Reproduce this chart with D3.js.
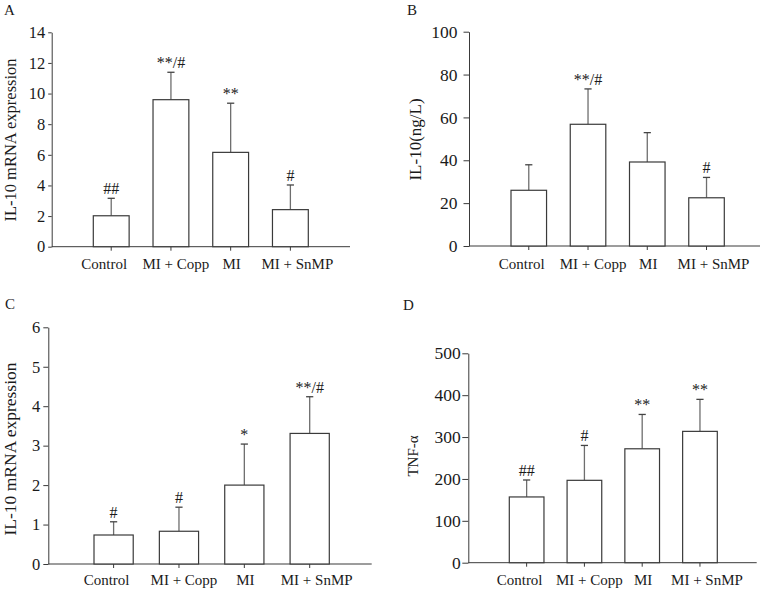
<!DOCTYPE html>
<html>
<head>
<meta charset="utf-8">
<script src="https://cdn.jsdelivr.net/npm/d3@7/dist/d3.min.js"></script>
<style>
  html, body { margin: 0; padding: 0; background: #fff; }
  svg { display: block; }
  text { font-family: "Liberation Serif", "Times New Roman", "DejaVu Serif", serif; fill: #1a1a1a; }
</style>
</head>
<body>
<svg id="chart" width="771" height="591"></svg>
<script>
// ---------- data ----------
const categories = ["Control", "MI + Copp", "MI", "MI + SnMP"];

const meanA = [2.02, 9.6, 6.16, 2.42];
const sdA   = [1.14, 1.79, 3.21, 1.61];
const sigA  = ["##", "**/#", "**", "#"];
const ticksA = [0, 2, 4, 6, 8, 10, 12, 14];

const meanB = [26.0, 56.8, 39.2, 22.5];
const sdB   = [11.9, 16.5, 13.7, 9.5];
const sigB  = ["", "**/#", "", "#"];
const ticksB = [0, 20, 40, 60, 80, 100];

const meanC = [0.735, 0.83, 2.0, 3.31];
const sdC   = [0.335, 0.61, 1.04, 0.93];
const sigC  = ["#", "#", "*", "**/#"];
const ticksC = [0, 1, 2, 3, 4, 5, 6];

const meanD = [157, 196.7, 272, 313.6];
const sdD   = [40.5, 83.3, 82, 76.4];
const sigD  = ["##", "#", "**", "**"];
const ticksD = [0, 100, 200, 300, 400, 500];

// ---------- layout ----------
const panels = [
  { letter: "A", letterPos: [4, 15], ylabel: "IL-10 mRNA expression", ylabelPos: [15.5, 140], ylabelSize: 16.5,
    mean: meanA, sd: sdA, sig: sigA, ticks: ticksA,
    axisX: 51.7, xEnd: 350, yRange: [246.7, 32.3], barRange: [93.3, 308.3],
    tickSize: 3.5, tickPad: 3, tickFont: 16.5, xLabelY: 269 },
  { letter: "B", letterPos: [407, 15], ylabel: "IL-10(ng/L)", ylabelPos: [421, 139.5], ylabelSize: 17,
    mean: meanB, sd: sdB, sig: sigB, ticks: ticksB,
    axisX: 469, xEnd: 760, yRange: [246, 31.7], barRange: [511, 724.3],
    tickSize: 5.5, tickPad: 6, tickFont: 17.5, xLabelY: 269 },
  { letter: "C", letterPos: [5, 309], ylabel: "IL-10 mRNA expression", ylabelPos: [15.5, 449], ylabelSize: 17.5,
    mean: meanC, sd: sdC, sig: sigC, ticks: ticksC,
    axisX: 48.3, xEnd: 371.7, yRange: [564, 327.3], barRange: [94, 329.3],
    tickSize: 5, tickPad: 3, tickFont: 16.5, xLabelY: 585 },
  { letter: "D", letterPos: [403, 310], ylabel: "TNF-\u03B1", ylabelPos: [418, 456], ylabelSize: 15,
    mean: meanD, sd: sdD, sig: sigD, ticks: ticksD,
    axisX: 468.3, xEnd: 756.7, yRange: [562.7, 353.3], barRange: [509.3, 717.3],
    tickSize: 6, tickPad: 1.5, tickFont: 17.5, xLabelY: 585 }
];
const labelShift = [-7, 5, 1, 7];   // horizontal nudge of category labels
const axisColor = "#3a3a3a";
const barStroke = "#3a3a3a";
const errColor = "#6e6e6e";

const svg = d3.select("#chart");

panels.forEach(p => {
  const g = svg.append("g");
  const yMax = d3.max(p.ticks);
  const y = d3.scaleLinear().domain([0, yMax]).range(p.yRange);
  const x = d3.scaleBand().domain(categories).range(p.barRange)
              .paddingInner(0.4).paddingOuter(0);

  // y axis
  const yAxis = d3.axisLeft(y).tickValues(p.ticks).tickSize(p.tickSize)
                  .tickSizeOuter(0).tickPadding(p.tickPad).tickFormat(d3.format("d"));
  const ya = g.append("g").attr("transform", `translate(${p.axisX},0)`).call(yAxis);
  ya.attr("font-family", null).attr("font-size", null);
  ya.select(".domain").attr("stroke", axisColor).attr("stroke-width", 1);
  ya.selectAll(".tick line").attr("stroke", axisColor);
  ya.selectAll(".tick text").attr("font-size", p.tickFont).attr("fill", "#1a1a1a");

  // x axis baseline
  g.append("line")
    .attr("x1", p.axisX).attr("x2", p.xEnd)
    .attr("y1", y(0)).attr("y2", y(0))
    .attr("stroke", axisColor).attr("stroke-width", 1);

  const xAxis = d3.axisBottom(x).tickSize(4).tickSizeOuter(0).tickFormat("");
  const xa = g.append("g").attr("transform", `translate(0,${y(0)})`).call(xAxis);
  xa.select(".domain").remove();
  xa.selectAll(".tick line").attr("stroke", axisColor);

  // category labels
  g.selectAll("text.cat").data(categories).enter().append("text")
    .attr("class", "cat")
    .attr("x", (d, i) => x(d) + x.bandwidth() / 2 + labelShift[i])
    .attr("y", p.xLabelY)
    .attr("text-anchor", "middle")
    .attr("font-size", 15)
    .text(d => d);

  const data = categories.map((c, i) => ({ c, m: p.mean[i], s: p.sd[i], sig: p.sig[i] }));

  // error bars (upper only)
  const eb = g.selectAll("g.err").data(data).enter().append("g").attr("class", "err");
  eb.append("line")
    .attr("x1", d => x(d.c) + x.bandwidth() / 2).attr("x2", d => x(d.c) + x.bandwidth() / 2)
    .attr("y1", d => y(d.m)).attr("y2", d => y(d.m + d.s))
    .attr("stroke", errColor).attr("stroke-width", 1.3);
  eb.append("line")
    .attr("x1", d => x(d.c) + x.bandwidth() / 2 - 3.6).attr("x2", d => x(d.c) + x.bandwidth() / 2 + 3.6)
    .attr("y1", d => y(d.m + d.s)).attr("y2", d => y(d.m + d.s))
    .attr("stroke", "#444").attr("stroke-width", 1.3);

  // bars
  g.selectAll("rect.bar").data(data).enter().append("rect")
    .attr("class", "bar")
    .attr("x", d => x(d.c)).attr("width", x.bandwidth())
    .attr("y", d => y(d.m)).attr("height", d => y(0) - y(d.m))
    .attr("fill", "#fff").attr("stroke", barStroke).attr("stroke-width", 1.2);

  // significance labels
  g.selectAll("text.sig").data(data.filter(d => d.sig)).enter().append("text")
    .attr("class", "sig")
    .attr("x", d => x(d.c) + x.bandwidth() / 2)
    .attr("y", d => y(d.m + d.s) - 4)
    .attr("text-anchor", "middle")
    .attr("font-size", 16)
    .text(d => d.sig);

  // y label
  g.append("text")
    .attr("transform", `translate(${p.ylabelPos[0]},${p.ylabelPos[1]}) rotate(-90)`)
    .attr("text-anchor", "middle")
    .attr("font-size", p.ylabelSize)
    .text(p.ylabel);

  // panel letter
  g.append("text")
    .attr("x", p.letterPos[0]).attr("y", p.letterPos[1])
    .attr("font-size", 15)
    .text(p.letter);
});
</script>
</body>
</html>
